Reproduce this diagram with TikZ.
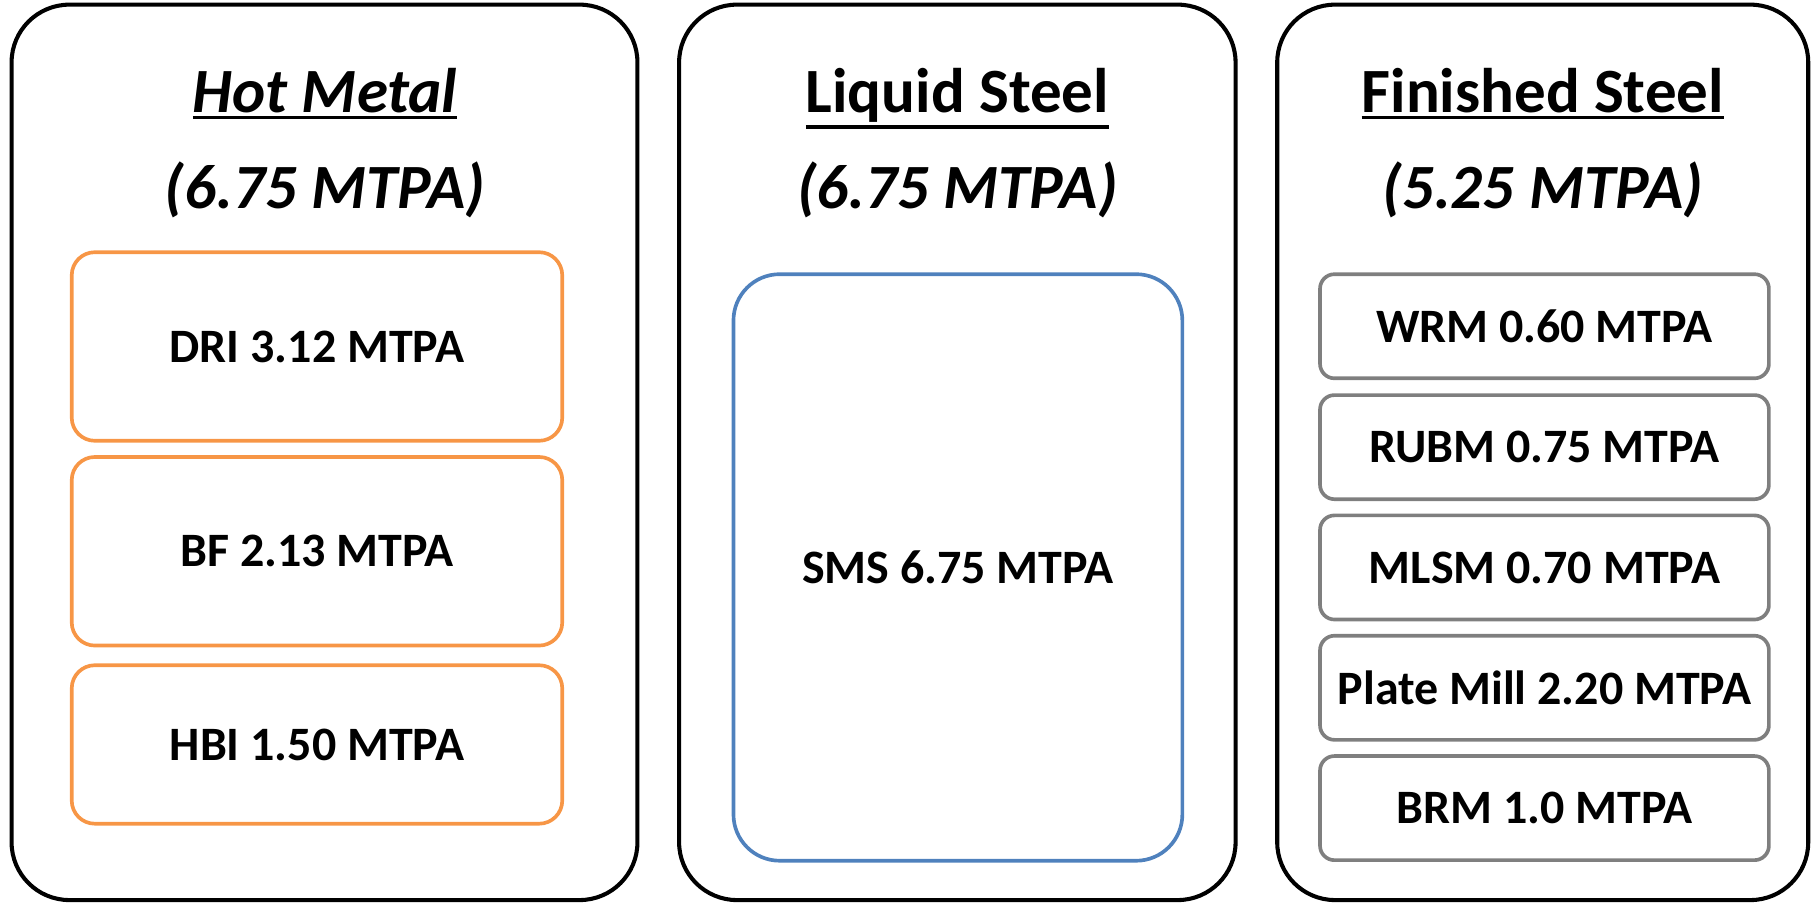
\documentclass[tikz,border=0pt]{standalone}
\usepackage{fontspec}
\setmainfont{Carlito}
\usetikzlibrary{positioning}

\definecolor{hmorange}{HTML}{F79646}
\definecolor{lsblue}{HTML}{4F81BD}
\definecolor{fsgray}{HTML}{7F7F7F}

\newcommand\titleline[1]{\leavevmode\vtop{\hbox{#1}\kern1.5pt\hrule height 1.8pt}}

\tikzset{
    panel/.style={draw, line width=2pt, rounded corners=1cm, minimum height=15.48cm},
    title/.style={anchor=base, font=\fontsize{31}{36}\selectfont\bfseries},
    unit/.style={draw=#1, line width=1.8pt, rounded corners, text=black, font=\fontsize{23.6}{28}\selectfont\bfseries}
}

\begin{document}
\begin{tikzpicture}
    \useasboundingbox (0,0) rectangle (31.36,-15.61);
    % Three panels
    \node[panel, minimum width=10.82cm] (hm) at (5.61,-7.82) {};
    \node[panel, minimum width=9.62cm] (ls) at (16.55,-7.82) {};
    \node[panel, minimum width=9.18cm] (fs) at (26.67,-7.82) {};

    % Titles
    \node[title] (hmt) at (5.62,-1.94) {\titleline{\itshape Hot Metal}};
    \node[title] (hmc) at (5.62,-3.6) {\itshape (6.75 MTPA)};
    \node[title] (lst) at (16.55,-1.94) {\titleline{Liquid Steel}};
    \node[title] (lsc) at (16.55,-3.6) {\itshape (6.75 MTPA)};
    \node[title] (fst) at (26.67,-1.94) {\titleline{Finished Steel}};
    \node[title] (fsc) at (26.67,-3.6) {\itshape (5.25 MTPA)};

    % Hot metal units
    \node[unit=hmorange, rounded corners=0.4cm,
          minimum width=8.48cm, minimum height=3.26cm] (dri) at (5.48,-5.99) {DRI 3.12 MTPA};
    \node[unit=hmorange, rounded corners=0.4cm,
          minimum width=8.48cm, minimum height=3.26cm] (bf) at (5.48,-9.53) {BF 2.13 MTPA};
    \node[unit=hmorange, rounded corners=0.4cm,
          minimum width=8.48cm, minimum height=2.74cm] (hbi) at (5.48,-12.87) {HBI 1.50 MTPA};

    % Liquid steel
    \node[unit=lsblue, rounded corners=0.8cm,
          minimum width=7.76cm, minimum height=10.14cm] (sms) at (16.56,-9.81) {SMS 6.75 MTPA};

    % Finished steel mills
    \foreach \name/\y/\txt in {wrm/-5.64/WRM 0.60 MTPA, rubm/-7.73/RUBM 0.75 MTPA,
        mlsm/-9.81/MLSM 0.70 MTPA, pm/-11.89/Plate Mill 2.20 MTPA, brm/-13.97/BRM 1.0 MTPA} {
        \node[unit=fsgray, rounded corners=0.25cm,
              minimum width=7.76cm, minimum height=1.8cm] (\name) at (26.7,\y) {\txt};
    }
\end{tikzpicture}
\end{document}
